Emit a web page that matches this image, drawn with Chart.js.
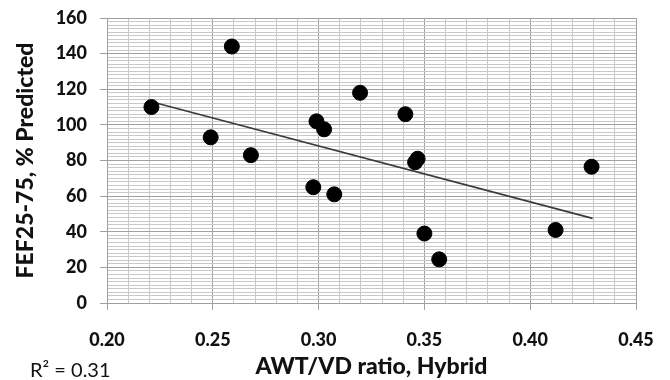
<!DOCTYPE html>
<html>
<head>
<meta charset="utf-8">
<script src="https://cdn.jsdelivr.net/npm/chart.js@4.4.1/dist/chart.umd.min.js"></script>
<style>
  html, body { margin: 0; padding: 0; background: #fff; }
</style>
</head>
<body>
<canvas id="chart" width="670" height="380"></canvas>
<script>
// values
const ratioX = [0.221, 0.249, 0.259, 0.268, 0.2975, 0.299, 0.3026, 0.3074, 0.3196, 0.341, 0.3456, 0.3468, 0.350, 0.357, 0.412, 0.429];
const fefPct = [110, 93, 144, 83, 65, 102, 97.5, 61, 118, 106, 79, 81, 39, 24.5, 41, 76.5];

// trendline end points
const trendX = [0.221, 0.4295];
const trendY = [113, 47.5];

const xLabels = ["0.20", "0.25", "0.30", "0.35", "0.40", "0.45"];
const yLabels = [0, 20, 40, 60, 80, 100, 120, 140, 160];
const r2Text = "R\u00B2 = 0.31";

const isMajorX = v => xLabels.includes(v.toFixed(2));
const isMajorY = v => yLabels.includes(Math.round(v));

const r2Label = {
    id: "r2Label",
    afterDraw(chart) {
        const c = chart.ctx;
        c.save();
        c.font = "20px Lato";
        c.fillStyle = "#111";
        c.textBaseline = "middle";
        c.fillText(r2Text, 30, 371);
        c.restore();
    }
};

const ctx = document.querySelector("#chart").getContext("2d");

new Chart(ctx, {
    type: "scatter",
    data: {
        datasets: [
            {
                label: "points",
                data: ratioX.map((x, i) => ({ x: x, y: fefPct[i] })),
                backgroundColor: "#000",
                borderColor: "#000",
                pointRadius: 7.5,
                pointHoverRadius: 7.5,
                order: 1
            },
            {
                label: "trend",
                data: trendX.map((x, i) => ({ x: x, y: trendY[i] })),
                showLine: true,
                borderColor: "#3a3a3a",
                borderWidth: 1.6,
                pointRadius: 0,
                order: 2
            }
        ]
    },
    options: {
        responsive: false,
        animation: false,
        layout: { padding: { left: 12, right: 34, top: 18, bottom: 0 } },
        plugins: {
            legend: { display: false },
            tooltip: { enabled: false }
        },
        scales: {
            x: {
                type: "linear",
                min: 0.2,
                max: 0.45,
                afterFit: s => {
                    s.height = 77;
                    s.paddingLeft = 0;
                    s.paddingRight = 0;
                },
                ticks: {
                    stepSize: 0.01,
                    autoSkip: false,
                    maxRotation: 0,
                    padding: 19,
                    color: "#111",
                    font: { family: "Lato", size: 18, weight: "900" },
                    callback: v => isMajorX(v) ? v.toFixed(2) : ""
                },
                grid: {
                    color: c => isMajorX(c.tick.value) ? "#a0a0a0" : "#c8c8c8",
                    tickColor: c => isMajorX(c.tick.value) ? "#a0a0a0" : "rgba(0,0,0,0)",
                    tickLength: 7
                },
                border: { color: "#a0a0a0" },
                title: {
                    display: true,
                    text: "AWT/VD ratio, Hybrid",
                    color: "#111",
                    padding: 0,
                    font: { family: "Lato", size: 23, weight: "900" }
                }
            },
            y: {
                min: 0,
                max: 160,
                afterFit: s => {
                    s.width = 95;
                    s.paddingTop = 0;
                    s.paddingBottom = 0;
                },
                ticks: {
                    stepSize: 2,
                    autoSkip: false,
                    padding: 13,
                    color: "#111",
                    font: { family: "Lato", size: 18, weight: "900" },
                    callback: v => isMajorY(v) ? v : ""
                },
                grid: {
                    color: c => isMajorY(c.tick.value) ? "#a0a0a0" : "#c8c8c8",
                    tickColor: c => isMajorY(c.tick.value) ? "#a0a0a0" : "rgba(0,0,0,0)",
                    tickLength: 7
                },
                border: { color: "#a0a0a0" },
                title: {
                    display: true,
                    text: "FEF25-75, % Predicted",
                    color: "#111",
                    padding: 0,
                    font: { family: "Lato", size: 23, weight: "900" }
                }
            }
        }
    },
    plugins: [r2Label]
});
</script>
</body>
</html>
